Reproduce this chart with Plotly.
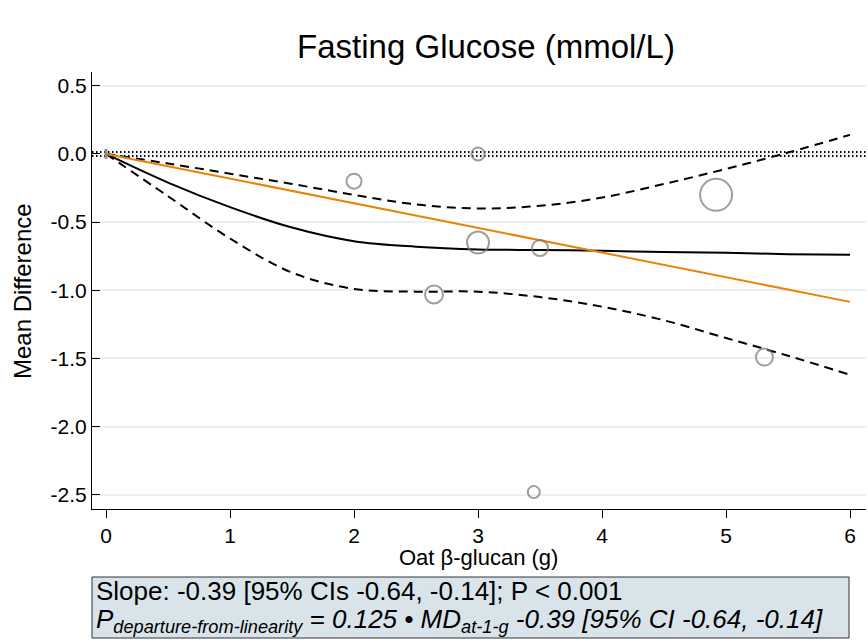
import plotly.graph_objects as go

# ---- data ----
curve_x = [0, 0.5, 1, 1.5, 2, 2.5, 3, 3.5, 4, 4.5, 5, 5.5, 6]
spline_y = [0, -0.21, -0.39, -0.54, -0.64, -0.68, -0.70, -0.705, -0.71, -0.72, -0.725, -0.735, -0.74]
upper_y = [0, -0.07, -0.145, -0.22, -0.30, -0.37, -0.40, -0.38, -0.32, -0.22, -0.11, 0.01, 0.14]
lower_y = [0, -0.31, -0.62, -0.87, -0.99, -1.01, -1.01, -1.05, -1.12, -1.22, -1.35, -1.48, -1.62]
linear_x = [0, 6]
linear_y = [0, -1.085]

study_x = [2.0, 3.0, 2.645, 3.0, 3.5, 4.92, 5.31, 3.45]
study_y = [-0.20, 0.0, -1.03, -0.65, -0.69, -0.30, -1.49, -2.48]
study_size = [15, 13, 18, 22, 16, 32, 17, 12]

y_ticks = [0.5, 0.0, -0.5, -1.0, -1.5, -2.0, -2.5]
y_tick_labels = ["0.5", "0.0", "-0.5", "-1.0", "-1.5", "-2.0", "-2.5"]
x_ticks = [0, 1, 2, 3, 4, 5, 6]

title = "Fasting Glucose (mmol/L)"
x_title = "Oat β-glucan (g)"
y_title = "Mean Difference"
line1 = "Slope: -0.39 [95% CIs -0.64, -0.14]; P < 0.001"
line2 = ("<i>P<sub>departure-from-linearity</sub> = 0.125 • MD<sub>at-1-g</sub> "
         "-0.39 [95% CI -0.64, -0.14]</i>")

FONT = "Liberation Sans, Arial, Helvetica, sans-serif"
PW, PH = 774, 437  # plot area in px

fig = go.Figure()

# reference line at 0 (Stata-like dotted ticks)
fig.add_shape(type="line", xref="paper", yref="y", x0=0, x1=1, y0=0, y1=0,
              line=dict(color="black", width=6, dash="1.5px,2.5px"), layer="below")

fig.add_trace(go.Scatter(x=curve_x, y=upper_y, mode="lines", line_shape="spline",
                         line=dict(color="black", width=2, dash="9px,6px"), showlegend=False))
fig.add_trace(go.Scatter(x=curve_x, y=lower_y, mode="lines", line_shape="spline",
                         line=dict(color="black", width=2, dash="9px,6px"), showlegend=False))
fig.add_trace(go.Scatter(x=curve_x, y=spline_y, mode="lines", line_shape="spline",
                         line=dict(color="black", width=2), showlegend=False))
fig.add_trace(go.Scatter(x=linear_x, y=linear_y, mode="lines",
                         line=dict(color="#e8830a", width=2), showlegend=False))
fig.add_trace(go.Scatter(x=study_x, y=study_y, mode="markers",
                         marker=dict(size=study_size, color="rgba(0,0,0,0)",
                                     line=dict(color="#767676", width=2)),
                         showlegend=False))
fig.add_trace(go.Scatter(x=[0], y=[0], mode="markers",
                         marker=dict(symbol="line-ns", size=7,
                                     line=dict(color="#8a8a8a", width=3)),
                         showlegend=False))

fig.update_layout(
    width=868, height=642,
    margin=dict(l=92, r=2, t=72, b=133),
    paper_bgcolor="white", plot_bgcolor="white",
    font=dict(family=FONT, color="black", size=21),
    title=dict(text=title, x=486 / 868, xanchor="center", y=1 - 46 / 642, yanchor="middle",
               font=dict(size=33, family=FONT)),
    xaxis=dict(range=[-0.113, 6.129], tickvals=x_ticks, ticks="outside", ticklen=8,
               tickwidth=1, tickcolor="black", showline=True, linecolor="black", linewidth=1,
               showgrid=False, zeroline=False, tickfont=dict(size=21)),
    yaxis=dict(range=[-2.604, 0.601], tickvals=y_ticks, ticktext=y_tick_labels,
               ticks="inside", ticklen=8, tickwidth=1, tickcolor="black",
               showline=True, linecolor="black", linewidth=1,
               showgrid=True, gridcolor="#eaf1f3", gridwidth=2, zeroline=False,
               tickfont=dict(size=21)),
)

# axis titles
fig.add_annotation(xref="paper", yref="paper", x=(478 - 92) / PW, y=-(557 - 509) / PH,
                   xanchor="center", yanchor="middle", text=x_title, showarrow=False,
                   font=dict(size=22, family=FONT))
fig.add_annotation(xref="paper", yref="paper", x=-(92 - 22) / PW, y=(509 - 291) / PH,
                   xanchor="center", yanchor="middle", text=y_title, showarrow=False,
                   textangle=-90, font=dict(size=24, family=FONT))

# statistics box
fig.add_shape(type="rect", xref="paper", yref="paper",
              x0=0, x1=757 / PW, y0=-(577 - 509) / PH, y1=-(638 - 509) / PH,
              fillcolor="#d9e4ea", line=dict(color="#333333", width=1))
fig.add_annotation(xref="paper", yref="paper", x=2 / PW, y=-(591 - 509) / PH,
                   xanchor="left", yanchor="middle", text=line1, showarrow=False,
                   font=dict(size=26, family=FONT, color="black"))
fig.add_annotation(xref="paper", yref="paper", x=2 / PW, y=-(620 - 509) / PH,
                   xanchor="left", yanchor="middle", text=line2, showarrow=False,
                   font=dict(size=26, family=FONT, color="black"))

fig.write_html("out.html")
